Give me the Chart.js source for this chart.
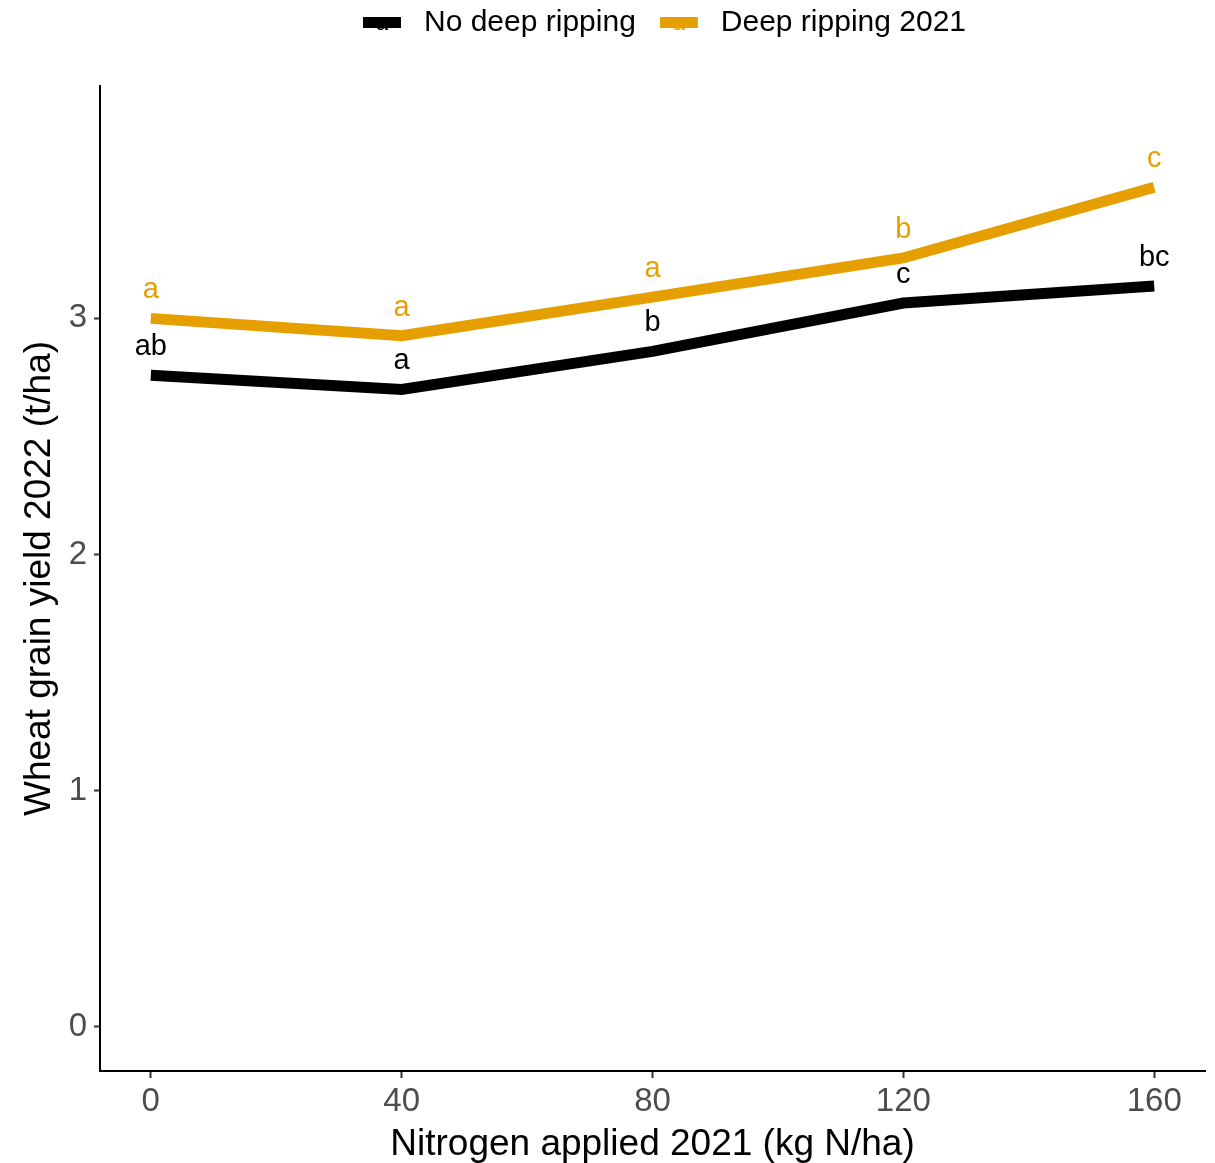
<!DOCTYPE html>
<html>
<head>
<meta charset="utf-8">
<title>Wheat grain yield 2022</title>
<script src="https://cdn.jsdelivr.net/npm/chart.js@4"></script>
<style>
    html, body { margin: 0; padding: 0; background: #ffffff; }
    #chart-wrap { width: 1215px; height: 1163px; }
</style>
</head>
<body>
<div id="chart-wrap">
    <canvas id="yield-chart" width="1215" height="1163"></canvas>
</div>
<script>
// Chart data
const nitrogenRates = [0, 40, 80, 120, 160];
const noRippingYield = [2.759, 2.699, 2.86, 3.065, 3.137];
const rippingYield = [3.000, 2.927, 3.09, 3.256, 3.555];
const noRippingLetters = ['ab', 'a', 'b', 'c', 'bc'];
const rippingLetters = ['a', 'a', 'a', 'b', 'c'];
const xTicks = [0, 40, 80, 120, 160];
const yTicks = [0, 1, 2, 3];

const FONT = '"Liberation Sans", Arial, sans-serif';
const BLACK = '#000000';
const ORANGE = '#E69F00';

// ggplot-style legend key: thick line with a little "a" on it
// (extra 8px on the right so the label sits a bit further away)
function makeKey(color) {
    const c = document.createElement('canvas');
    c.width = 46;
    c.height = 30;
    const ctx = c.getContext('2d');
    ctx.fillStyle = color;
    ctx.font = '22px ' + FONT;
    ctx.textAlign = 'center';
    ctx.textBaseline = 'middle';
    ctx.fillText('a', 19, 16);
    ctx.fillRect(0, 9, 38, 11);
    return c;
}

// letters above each point
const letterLabels = {
    id: 'letterLabels',
    afterDatasetsDraw(chart) {
        const ctx = chart.ctx;
        ctx.save();
        ctx.font = '29px ' + FONT;
        ctx.textAlign = 'center';
        ctx.textBaseline = 'middle';
        chart.data.datasets.forEach((ds, i) => {
            const meta = chart.getDatasetMeta(i);
            ctx.fillStyle = ds.borderColor;
            meta.data.forEach((pt, j) => {
                ctx.fillText(ds.letters[j], pt.x, pt.y - 28);
            });
        });
        ctx.restore();
    }
};

// push the plot down below the legend, nudge legend a bit right
const legendGap = {
    id: 'legendGap',
    beforeInit(chart) {
        const origFit = chart.legend.fit;
        chart.legend.fit = function fit() {
            origFit.bind(chart.legend)();
            this.height += 38;
        };
    },
    afterLayout(chart) {
        chart.legend.left += 12;
        chart.legend.right += 12;
    }
};

const ctx = document.getElementById('yield-chart').getContext('2d');

new Chart(ctx, {
    type: 'line',
    data: {
        datasets: [
            {
                label: 'No deep ripping',
                data: nitrogenRates.map((n, i) => ({ x: n, y: noRippingYield[i] })),
                letters: noRippingLetters,
                borderColor: BLACK,
                backgroundColor: BLACK,
                borderWidth: 11,
                borderCapStyle: 'butt',
                pointRadius: 0,
                tension: 0,
                fill: false,
                keyImage: makeKey(BLACK)
            },
            {
                label: 'Deep ripping 2021',
                data: nitrogenRates.map((n, i) => ({ x: n, y: rippingYield[i] })),
                letters: rippingLetters,
                borderColor: ORANGE,
                backgroundColor: ORANGE,
                borderWidth: 11,
                borderCapStyle: 'butt',
                pointRadius: 0,
                tension: 0,
                fill: false,
                keyImage: makeKey(ORANGE)
            }
        ]
    },
    options: {
        responsive: false,
        animation: false,
        devicePixelRatio: 1,
        layout: {
            padding: { top: -16, left: 0, right: 10, bottom: 0 }
        },
        plugins: {
            legend: {
                display: true,
                position: 'top',
                fullSize: false,
                labels: {
                    font: { family: FONT, size: 30 },
                    color: '#000000',
                    usePointStyle: true,
                    pointStyleWidth: 46,
                    padding: 24,
                    generateLabels(chart) {
                        return chart.data.datasets.map((ds, i) => ({
                            text: ds.label,
                            pointStyle: ds.keyImage,
                            fillStyle: ds.borderColor,
                            strokeStyle: ds.borderColor,
                            lineWidth: 0,
                            hidden: false,
                            datasetIndex: i
                        }));
                    }
                }
            },
            tooltip: { enabled: false }
        },
        scales: {
            x: {
                type: 'linear',
                min: -8.1,
                max: 168.1,
                afterBuildTicks(scale) {
                    scale.ticks = xTicks.map(v => ({ value: v }));
                },
                afterFit(scale) {
                    scale.height = 92;
                },
                ticks: {
                    font: { family: FONT, size: 33 },
                    color: '#4d4d4d',
                    padding: 4
                },
                grid: {
                    display: true,
                    drawOnChartArea: false,
                    drawTicks: true,
                    tickLength: 7,
                    tickWidth: 2,
                    color: '#333333'
                },
                border: {
                    display: true,
                    color: '#000000',
                    width: 2
                },
                title: {
                    display: true,
                    text: 'Nitrogen applied 2021 (kg N/ha)',
                    font: { family: FONT, size: 37, lineHeight: 1.0 },
                    color: '#000000',
                    padding: { top: 0, bottom: 0 }
                }
            },
            y: {
                type: 'linear',
                min: -0.187,
                max: 3.984,
                afterBuildTicks(scale) {
                    scale.ticks = yTicks.map(v => ({ value: v }));
                },
                afterFit(scale) {
                    scale.width = 100;
                },
                ticks: {
                    font: { family: FONT, size: 33 },
                    color: '#4d4d4d',
                    padding: 7
                },
                grid: {
                    display: true,
                    drawOnChartArea: false,
                    drawTicks: true,
                    tickLength: 6,
                    tickWidth: 2,
                    color: '#333333'
                },
                border: {
                    display: true,
                    color: '#000000',
                    width: 2
                },
                title: {
                    display: true,
                    text: 'Wheat grain yield 2022 (t/ha)',
                    font: { family: FONT, size: 37 },
                    color: '#000000',
                    padding: { top: 18, bottom: 0 }
                }
            }
        }
    },
    plugins: [legendGap, letterLabels]
});
</script>
</body>
</html>
